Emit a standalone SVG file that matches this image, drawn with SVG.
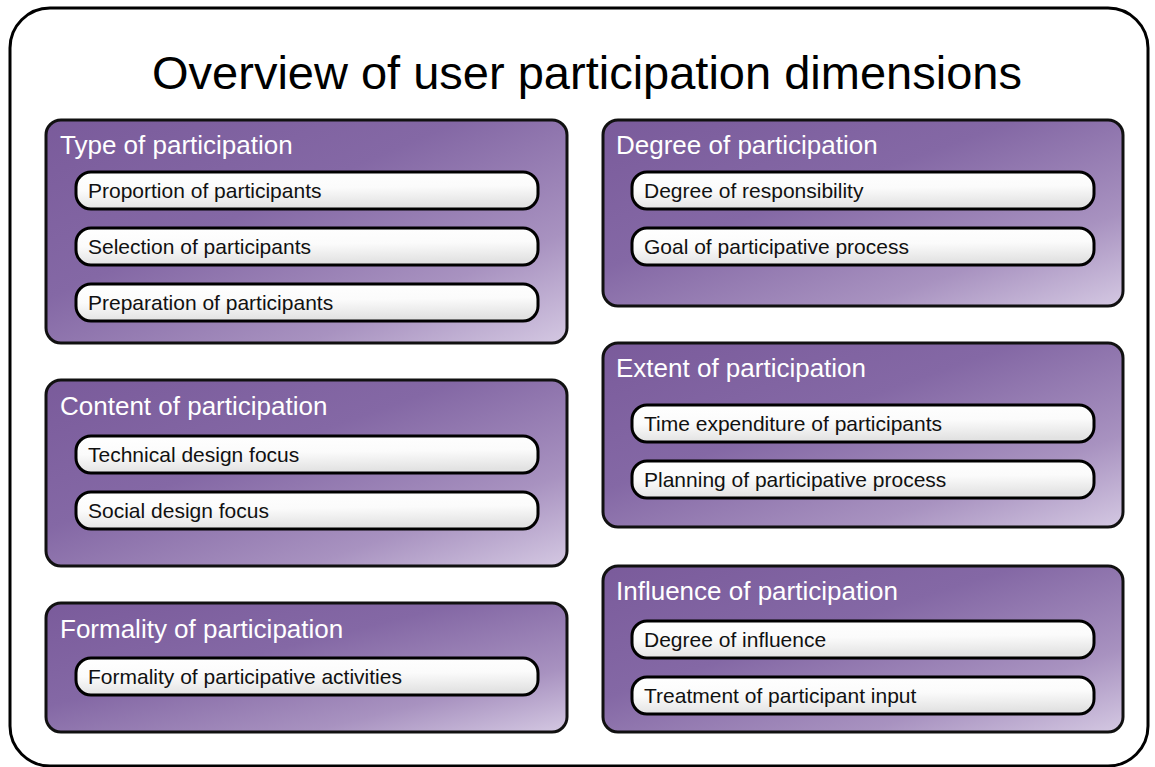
<svg xmlns="http://www.w3.org/2000/svg" width="1155" height="767" viewBox="0 0 1155 767">
<defs>
<linearGradient id="panelGrad" x1="0" y1="0" x2="1" y2="1">
<stop offset="0" stop-color="#7a5b9b"/>
<stop offset="0.4" stop-color="#8468a5"/>
<stop offset="0.75" stop-color="#a892c0"/>
<stop offset="1" stop-color="#d4c8e2"/>
</linearGradient>
<linearGradient id="pillGrad" x1="0" y1="0" x2="0.15" y2="1">
<stop offset="0" stop-color="#ffffff"/>
<stop offset="0.5" stop-color="#fbfbfb"/>
<stop offset="1" stop-color="#e2e2e2"/>
</linearGradient>
</defs>
<style>
.outer{fill:#ffffff;stroke:#000;stroke-width:3}
.panel{fill:url(#panelGrad);stroke:#111;stroke-width:3}
.pill{fill:url(#pillGrad);stroke:#000;stroke-width:3}
.title{font-family:"Liberation Sans",Arial,sans-serif;font-size:47px;fill:#000}
.ptitle{font-family:"Liberation Sans",Arial,sans-serif;font-size:26px;fill:#ffffff}
.ptext{font-family:"Liberation Sans",Arial,sans-serif;font-size:21px;fill:#111}
</style>
<rect class="outer" x="10" y="8" width="1138" height="758" rx="40" ry="40"/>
<text class="title" x="587" y="89" text-anchor="middle">Overview of user participation dimensions</text>

<g id="type">
<rect class="panel" x="46" y="120" width="521" height="223" rx="15"/>
<text class="ptitle" x="60" y="154">Type of participation</text>
<rect class="pill" x="76" y="172" width="462" height="37" rx="15"/>
<text class="ptext" x="88" y="198">Proportion of participants</text>
<rect class="pill" x="76" y="228" width="462" height="37" rx="15"/>
<text class="ptext" x="88" y="254">Selection of participants</text>
<rect class="pill" x="76" y="284" width="462" height="37" rx="15"/>
<text class="ptext" x="88" y="310">Preparation of participants</text>
</g>

<g id="content">
<rect class="panel" x="46" y="380" width="521" height="186" rx="15"/>
<text class="ptitle" x="60" y="415">Content of participation</text>
<rect class="pill" x="76" y="436" width="462" height="37" rx="15"/>
<text class="ptext" x="88" y="462">Technical design focus</text>
<rect class="pill" x="76" y="492" width="462" height="37" rx="15"/>
<text class="ptext" x="88" y="518">Social design focus</text>
</g>

<g id="formality">
<rect class="panel" x="46" y="603" width="521" height="129" rx="15"/>
<text class="ptitle" x="60" y="638">Formality of participation</text>
<rect class="pill" x="76" y="658" width="462" height="37" rx="15"/>
<text class="ptext" x="88" y="684">Formality of participative activities</text>
</g>

<g id="degree">
<rect class="panel" x="603" y="120" width="520" height="186" rx="15"/>
<text class="ptitle" x="616" y="154">Degree of participation</text>
<rect class="pill" x="632" y="172" width="462" height="37" rx="15"/>
<text class="ptext" x="644" y="198">Degree of responsibility</text>
<rect class="pill" x="632" y="228" width="462" height="37" rx="15"/>
<text class="ptext" x="644" y="254">Goal of participative process</text>
</g>

<g id="extent">
<rect class="panel" x="603" y="343" width="520" height="184" rx="15"/>
<text class="ptitle" x="616" y="377">Extent of participation</text>
<rect class="pill" x="632" y="405" width="462" height="37" rx="15"/>
<text class="ptext" x="644" y="431">Time expenditure of participants</text>
<rect class="pill" x="632" y="461" width="462" height="37" rx="15"/>
<text class="ptext" x="644" y="487">Planning of participative process</text>
</g>

<g id="influence">
<rect class="panel" x="603" y="566" width="520" height="166" rx="15"/>
<text class="ptitle" x="616" y="600">Influence of participation</text>
<rect class="pill" x="632" y="621" width="462" height="37" rx="15"/>
<text class="ptext" x="644" y="647">Degree of influence</text>
<rect class="pill" x="632" y="677" width="462" height="37" rx="15"/>
<text class="ptext" x="644" y="703">Treatment of participant input</text>
</g>

<g id="connectors"/>
</svg>
